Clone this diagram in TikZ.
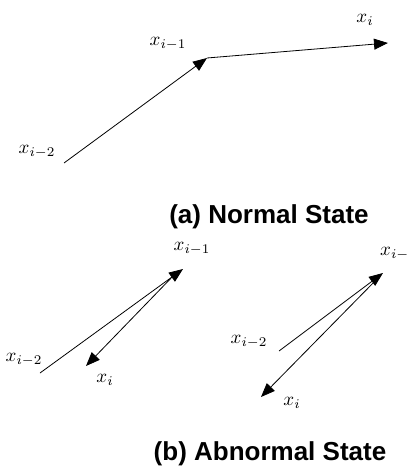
\documentclass[tikz,border=0pt]{standalone}
\usepackage{fontspec}
\newfontfamily\capfont{Liberation Sans}
\usetikzlibrary{arrows.meta}
\newcommand{\xlab}[1]{\scalebox{1.9}{$#1$}}

\begin{document}
\begin{tikzpicture}[x=1pt,y=-1pt,
    vec/.style={line width=0.8pt,-{Triangle[length=14pt,width=11pt]}},
    lab/.style={inner sep=0pt},
    statecaption/.style={inner sep=0pt,anchor=base,font=\capfont\bfseries\fontsize{26}{26}\selectfont}]
  \useasboundingbox (0,0) rectangle (407,468);

  % (a) normal
  \coordinate (a0) at (64,163);
  \coordinate (a1) at (207,58);
  \coordinate (a2) at (388,43);
  \draw [vec](a0)--(a1);
  \draw [vec](a1)--(a2);
  \node [lab] (la0) at (37,152) {\xlab{x_{i-2}}};
  \node [lab] (la1) at (168,44) {\xlab{x_{i-1}}};
  \node [lab] (la2) at (365,20) {\xlab{x_i}};
  \node [statecaption] (capa) at (269,223) {(a) Normal State};

  % (b) abnormal, left
  \coordinate (b0) at (40,373);
  \coordinate (b1) at (183,269);
  \coordinate (b1s) at (176,273);
  \coordinate (b2) at (86,366);
  \draw [vec](b0)--(b1);
  \draw [vec](b1s)--(b2);
  \node [lab] (lb0) at (24,360) {\xlab{x_{i-2}}};
  \node [lab] (lb1) at (192,249) {\xlab{x_{i-1}}};
  \node [lab] (lb2) at (105,380) {\xlab{x_i}};

  % (b) abnormal, right
  \coordinate (c0) at (279,351);
  \coordinate (c1) at (383,273);
  \coordinate (c1s) at (378,278);
  \coordinate (c2) at (261,397);
  \draw [vec](c0)--(c1);
  \draw [vec](c1s)--(c2);
  \node [lab] (lc0) at (249,342) {\xlab{x_{i-2}}};
  \node [lab,anchor=west] (lc1) at (380,254) {\xlab{x_{i-}}};
  \node [lab] (lc2) at (292,403) {\xlab{x_i}};
  \node [statecaption] (capb) at (270,460) {(b) Abnormal State};
\end{tikzpicture}
\end{document}
